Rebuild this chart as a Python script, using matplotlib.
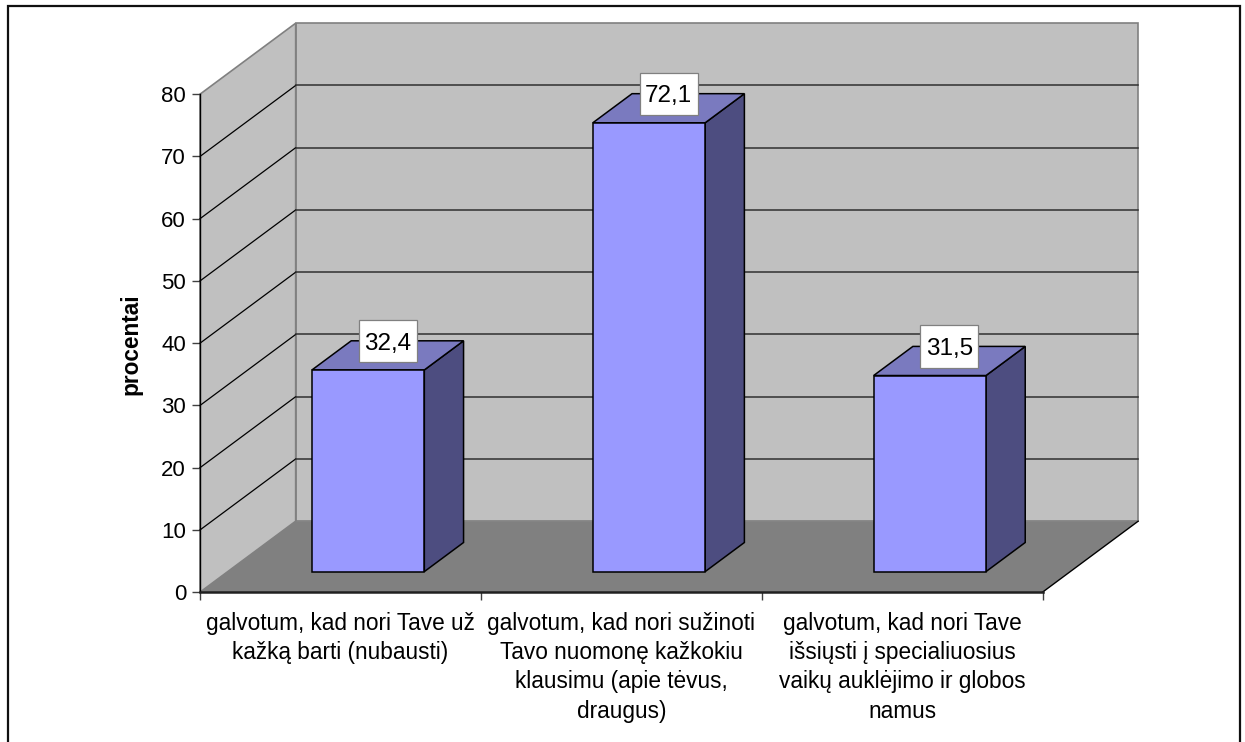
import matplotlib
matplotlib.use("Agg")
import matplotlib.pyplot as plt
from matplotlib.lines import Line2D
from matplotlib.patches import Polygon, Rectangle

plt.rcParams['font.family'] = ['Liberation Sans', 'DejaVu Sans']

categories = [
    "galvotum, kad nori Tave už\nkažką barti (nubausti)",
    "galvotum, kad nori sužinoti\nTavo nuomonę kažkokiu\nklausimu (apie tėvus,\ndraugus)",
    "galvotum, kad nori Tave\nišsiųsti į specialiuosius\nvaikų auklėjimo ir globos\nnamus",
]
values = [32.4, 72.1, 31.5]
value_labels = ["32,4", "72,1", "31,5"]
y_ticks = [0, 10, 20, 30, 40, 50, 60, 70, 80]
y_label = "procentai"

W, H = 1245, 742
# fake 3D: how far the back wall sits from the front plane, in data units
DEPTH_X = 95.8 / 281.2
DEPTH_Y = 71 / 6.225
BAR_FRONT = 0.29
BAR_BACK = 0.70
BAR_WIDTH = 0.4


def proj(x, y, d):
    return (x + d * DEPTH_X, y + d * DEPTH_Y)


def face(ax, pts, color, edge=None, lw=1.0, z=1):
    ax.add_patch(Polygon(pts, closed=True, facecolor=color, edgecolor=edge or 'none',
                         linewidth=lw, zorder=z, clip_on=False, joinstyle='miter'))


fig = plt.figure(figsize=(W / 100, H / 100), dpi=100)
ax = fig.add_axes([200 / W, 1 - 592.2 / H, (1042.5 - 200) / W, (592.2 - 94.2) / H])
ax.set_xlim(0, 3)
ax.set_ylim(0, 80)
ax.patch.set_visible(False)
ymax = y_ticks[-1]
n = len(categories)

# walls and floor
face(ax, [proj(0, 0, 1), proj(n, 0, 1), proj(n, ymax, 1), proj(0, ymax, 1)], '#C0C0C0', '#808080', 1.2)
face(ax, [proj(0, 0, 0), proj(0, 0, 1), proj(0, ymax, 1), proj(0, ymax, 0)], '#C0C0C0', '#808080', 1.2)
face(ax, [proj(0, 0, 0), proj(n, 0, 0), proj(n, 0, 1), proj(0, 0, 1)], '#808080', z=1.5)
ax.plot(*zip(proj(n, 0, 0), proj(n, 0, 1)), color='black', lw=1.0, zorder=1.6, clip_on=False)

# gridlines
for t in y_ticks[1:-1]:
    ax.plot(*zip(proj(0, t, 0), proj(0, t, 1)), color='black', lw=0.9, zorder=2, clip_on=False)
    ax.plot(*zip(proj(0, t, 1), proj(n, t, 1)), color='#303030', lw=1.1, zorder=2, clip_on=False)

# bars
for i, v in enumerate(values):
    x0 = i + 0.5 - BAR_WIDTH / 2
    x1 = i + 0.5 + BAR_WIDTH / 2
    side = [proj(x1, 0, BAR_FRONT), proj(x1, 0, BAR_BACK), proj(x1, v, BAR_BACK), proj(x1, v, BAR_FRONT)]
    top = [proj(x0, v, BAR_FRONT), proj(x1, v, BAR_FRONT), proj(x1, v, BAR_BACK), proj(x0, v, BAR_BACK)]
    front = [proj(x0, 0, BAR_FRONT), proj(x1, 0, BAR_FRONT), proj(x1, v, BAR_FRONT), proj(x0, v, BAR_FRONT)]
    face(ax, side, '#4D4D80', 'black', 1.1, z=3)
    face(ax, top, '#7A7ABF', 'black', 1.1, z=3)
    face(ax, front, '#9999FF', 'black', 1.1, z=3.1)

    # value label box, middle of the bar depth
    lx, ly = proj(i + 0.5, v + 2.3, (BAR_FRONT + BAR_BACK) / 2)
    bw, bh = 58 / 281.2, 42.6 / 6.225
    ax.add_patch(Rectangle((lx - bw / 2, ly - bh / 2), bw, bh, facecolor='white',
                           edgecolor='#808080', linewidth=0.9, zorder=4, clip_on=False))
    ax.text(lx, ly, value_labels[i], ha='center', va='center_baseline', fontsize=17.5,
            color='black', zorder=5)

# axes
for s in ['top', 'right']:
    ax.spines[s].set_visible(False)
ax.spines['left'].set_linewidth(1.0)
ax.spines['bottom'].set_linewidth(1.8)
ax.spines['bottom'].set_color('#202020')
for s in ax.spines.values():
    s.set_zorder(2.5)
ax.set_yticks(y_ticks)
ax.tick_params(axis='y', length=6, width=1.0, color='#404040', labelsize=16, pad=4)
ax.set_xticks(range(n + 1))
ax.set_xticklabels([])
ax.tick_params(axis='x', which='major', length=6, width=1.0, color='#404040')
ax.set_xticks([i + 0.5 for i in range(n)], minor=True)
ax.set_xticklabels(categories, minor=True, fontsize=16.3, linespacing=1.35)
ax.tick_params(axis='x', which='minor', length=0, pad=14)
for lab in ax.get_xticklabels(minor=True):
    lab.set_ha('center')

fig.text(131 / W, 1 - 344 / H, y_label, rotation=90, ha='center', va='center',
         fontsize=16.3, fontweight='bold')

# chart frame, cut off at the bottom of the picture
fig.add_artist(Line2D([8 / W, 8 / W, 1240 / W, 1240 / W], [0, 1 - 5.5 / H, 1 - 5.5 / H, 0],
                      color='#101010', lw=1.6, solid_joinstyle='miter'))

fig.savefig("out.png", dpi=100)
